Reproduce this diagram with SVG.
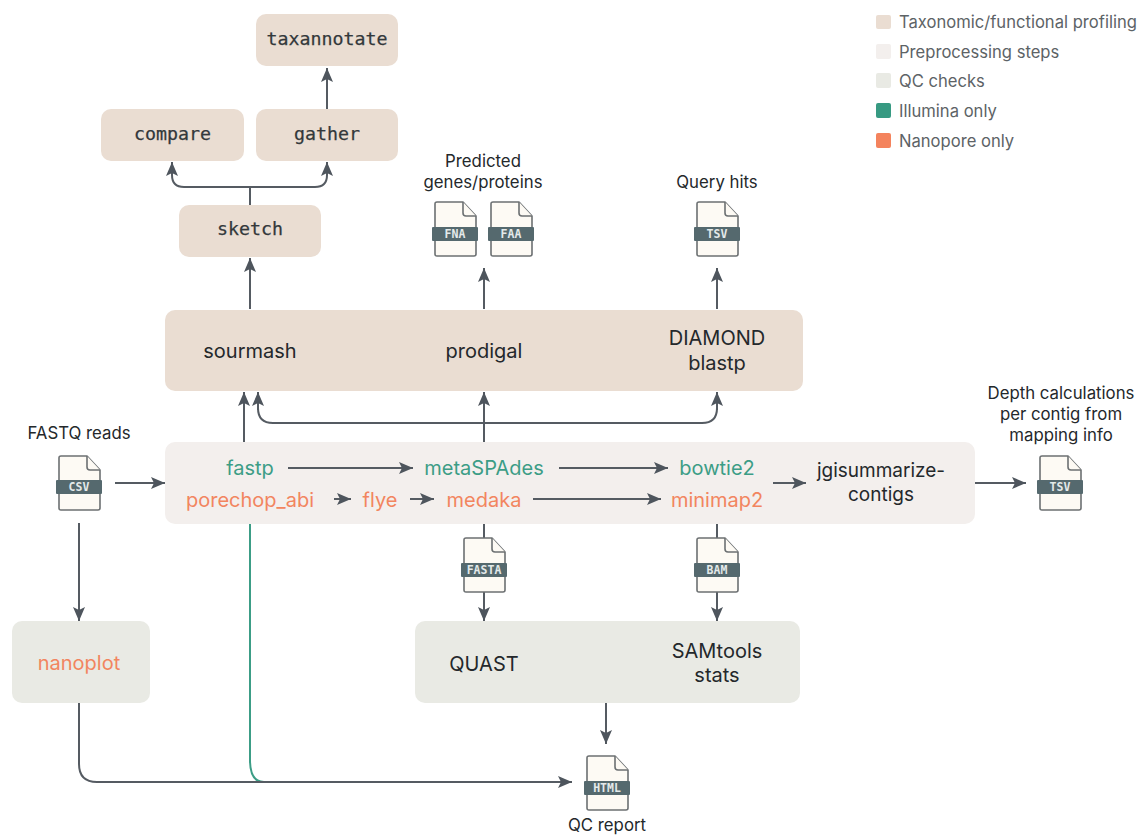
<svg xmlns="http://www.w3.org/2000/svg" width="1137" height="836" viewBox="0 0 1137 836">
<style>
text{font-family:"Inter","Liberation Sans",sans-serif;fill:#24282b}
.t{text-anchor:middle;font-size:20px}
.j{text-anchor:middle;font-size:19px}
.l{text-anchor:middle;font-size:16.800px}
.g{text-anchor:middle;font-size:20px;fill:#3c9d86}
.o{text-anchor:middle;font-size:20px;fill:#f2855f}
.m{text-anchor:middle;font-family:"DejaVu Sans Mono","Liberation Mono",monospace;font-size:18.300px;fill:#33383b;stroke:#33383b;stroke-width:.25}
.lg{font-size:16.600px;fill:#5d6366}
.b{fill:#eaddd2}.p{fill:#f3efed}.q{fill:#e9eae4}
.c{fill:none;stroke:#555b62;stroke-width:2}
.f{fill:#fdfaf4;stroke:#6c7072;stroke-width:1.6;stroke-linejoin:round}
.bd{fill:#55696e}
.ft{text-anchor:middle;font-family:"DejaVu Sans Mono","Liberation Mono",monospace;font-size:11.500px;font-weight:700;fill:#e4eaea}
</style>
<defs>
<marker id="a" markerUnits="userSpaceOnUse" markerWidth="18" markerHeight="16" refX="15" refY="8" orient="auto"><path d="M1,2 L15,8 L1,14 L4,8 Z" fill="#4e555d"/></marker>
<g id="doc">
<path class="f" d="M2,0 H28 L41,14 V52 Q41,54 39,54 H2 Q0,54 0,52 V2 Q0,0 2,0 Z"/>
<path class="f" d="M28,0 V11 Q28,14 31,14 H41"/>
</g>
</defs>
<g id="taxannotate"><rect class="b" x="256" y="14" width="142" height="52" rx="10"/><text class="m" x="327" y="45">taxannotate</text></g>
<g id="compare"><rect class="b" x="101" y="109" width="143" height="52" rx="10"/><text class="m" x="172.500" y="140">compare</text></g>
<g id="gather"><rect class="b" x="256" y="109" width="142" height="52" rx="10"/><text class="m" x="327" y="140">gather</text></g>
<g id="sketch"><rect class="b" x="179" y="205" width="142" height="52" rx="10"/><text class="m" x="250" y="235">sketch</text></g>
<g id="profiling"><rect class="b" x="165" y="310" width="638" height="81" rx="10"/>
<text class="t" x="250" y="358">sourmash</text><text class="t" x="484" y="358">prodigal</text>
<text class="t" x="717" y="345">DIAMOND</text><text class="t" x="717" y="370">blastp</text></g>
<g id="preprocessing"><rect class="p" x="165" y="442" width="810" height="82" rx="10"/>
<text class="g" x="250" y="475">fastp</text><text class="g" x="484" y="475">metaSPAdes</text><text class="g" x="717" y="475">bowtie2</text>
<text class="o" x="250" y="507">porechop_abi</text><text class="o" x="380" y="507">flye</text><text class="o" x="484" y="507">medaka</text><text class="o" x="717" y="507">minimap2</text>
<text class="j" x="881" y="477">jgisummarize-</text><text class="j" x="881" y="501">contigs</text></g>
<g id="nanoplot"><rect class="q" x="12" y="621" width="138" height="82" rx="10"/><text class="o" x="79" y="670">nanoplot</text></g>
<g id="qc"><rect class="q" x="415" y="621" width="385" height="82" rx="10"/>
<text class="t" x="484" y="671">QUAST</text><text class="t" x="717" y="658">SAMtools</text><text class="t" x="717" y="682">stats</text></g>
<g id="connectors">
<path class="c" marker-end="url(#a)" d="M327,109 V68"/>
<path class="c" marker-end="url(#a)" d="M250,205 V187 H184 Q172,187 172,175 V162"/>
<path class="c" marker-end="url(#a)" d="M250,187 H315 Q327,187 327,175 V162"/>
<path class="c" marker-end="url(#a)" d="M250,309 V258"/>
<path class="c" marker-end="url(#a)" d="M484,309 V268"/>
<path class="c" marker-end="url(#a)" d="M717,309 V268"/>
<path class="c" marker-end="url(#a)" d="M244,442 V392"/>
<path class="c" marker-end="url(#a)" d="M484,442 V392"/>
<path class="c" marker-end="url(#a)" d="M717,410 V392"/>
<path class="c" marker-end="url(#a)" d="M258,410 V392"/>
<path class="c" d="M258,408 Q258,423 273,423 H702 Q717,423 717,408"/>
<path class="c" marker-end="url(#a)" d="M115,483 H165"/>
<path class="c" marker-end="url(#a)" d="M79,523 V621"/>
<path class="c" marker-end="url(#a)" d="M288,468 H413"/>
<path class="c" marker-end="url(#a)" d="M559,468 H668"/>
<path class="c" marker-end="url(#a)" d="M334,499 H351"/>
<path class="c" marker-end="url(#a)" d="M410,499 H434"/>
<path class="c" marker-end="url(#a)" d="M533,499 H661"/>
<path class="c" marker-end="url(#a)" d="M773,483 H806"/>
<path class="c" marker-end="url(#a)" d="M975,483 H1026"/>
<path class="c" marker-end="url(#a)" d="M484,524 V621"/>
<path class="c" marker-end="url(#a)" d="M717,524 V621"/>
<path class="c" marker-end="url(#a)" d="M606,703 V744"/>
<path d="M250,524 V760 Q250,782 264,782" fill="none" stroke="#3c9d86" stroke-width="2"/>
<path class="c" marker-end="url(#a)" d="M79,703 V764 Q79,782 97,782 H572"/>
</g>
<g id="file-fna"><use href="#doc" x="435" y="202"/><rect class="bd" x="432" y="227" width="46" height="14" rx="1"/><text class="ft" x="455" y="238">FNA</text></g>
<g id="file-faa"><use href="#doc" x="491" y="202"/><rect class="bd" x="488" y="227" width="46" height="14" rx="1"/><text class="ft" x="511" y="238">FAA</text></g>
<g id="file-tsv1"><use href="#doc" x="697" y="202"/><rect class="bd" x="694" y="227" width="46" height="14" rx="1"/><text class="ft" x="717" y="238">TSV</text></g>
<g id="file-csv"><use href="#doc" x="59" y="456"/><rect class="bd" x="56" y="480" width="46" height="14" rx="1"/><text class="ft" x="79" y="491">CSV</text></g>
<g id="file-tsv2"><use href="#doc" x="1040" y="456"/><rect class="bd" x="1037" y="480" width="46" height="14" rx="1"/><text class="ft" x="1060" y="491">TSV</text></g>
<g id="file-fasta"><use href="#doc" x="464" y="538"/><rect class="bd" x="461" y="563" width="46" height="14" rx="1"/><text class="ft" x="484" y="574">FASTA</text></g>
<g id="file-bam"><use href="#doc" x="697" y="538"/><rect class="bd" x="694" y="563" width="46" height="14" rx="1"/><text class="ft" x="717" y="574">BAM</text></g>
<g id="file-html"><use href="#doc" x="587" y="756"/><rect class="bd" x="584" y="781" width="46" height="14" rx="1"/><text class="ft" x="607" y="792">HTML</text></g>
<g id="labels">
<text class="l" x="483" y="167">Predicted</text><text class="l" x="483" y="188">genes/proteins</text>
<text class="l" x="717" y="188">Query hits</text>
<text class="l" x="79" y="439">FASTQ reads</text>
<text class="l" x="1061" y="399">Depth calculations</text><text class="l" x="1061" y="420">per contig from</text><text class="l" x="1061" y="441">mapping info</text>
<text class="l" x="607" y="831">QC report</text>
</g>
<g id="legend">
<rect class="b" x="876" y="15" width="15" height="14" rx="2"/><text class="lg" x="899" y="28">Taxonomic/functional profiling</text>
<rect class="p" x="876" y="44" width="15" height="15" rx="2"/><text class="lg" x="899" y="58">Preprocessing steps</text>
<rect class="q" x="876" y="73" width="15" height="15" rx="2"/><text class="lg" x="899" y="87">QC checks</text>
<rect x="876" y="103" width="15" height="15" rx="2" fill="#379a82"/><text class="lg" x="899" y="117">Illumina only</text>
<rect x="876" y="133" width="15" height="15" rx="2" fill="#f4835d"/><text class="lg" x="899" y="147">Nanopore only</text>
</g>
</svg>
